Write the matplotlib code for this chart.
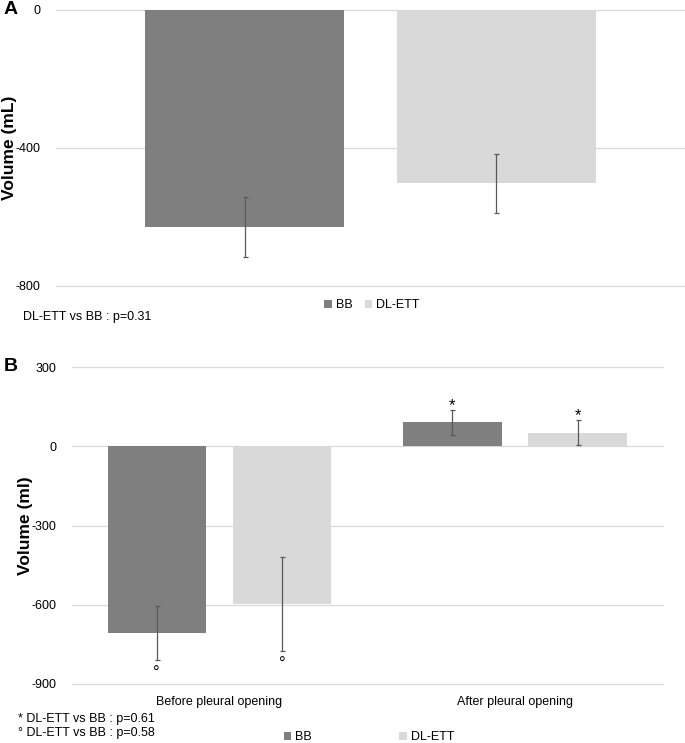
import matplotlib
matplotlib.use('Agg')
import matplotlib.pyplot as plt
from matplotlib.patches import Patch

plt.rcParams['font.family'] = ['Liberation Sans', 'DejaVu Sans']

# ---------------- data ----------------
series = ['BB', 'DL-ETT']
colors = ['#7f7f7f', '#d9d9d9']

a_values = [-630, -503]
a_errors = [87, 86]
a_yticks = [0, -400, -800]
a_note = 'DL-ETT vs BB : p=0.31'

b_categories = ['Before pleural opening', 'After pleural opening']
b_bb = [-709, 91]
b_bb_err = [102, 47]
b_dl = [-599, 52]
b_dl_err = [178, 47]
b_marks = ['°', '*']
b_yticks = [300, 0, -300, -600, -900]
b_notes = ['* DL-ETT vs BB : p=0.61', '° DL-ETT vs BB : p=0.58']

# ---------------- layout helpers ----------------
W, H = 685, 743
fig = plt.figure(figsize=(W / 100, H / 100), dpi=100)


def rect(x0, x1, ytop, ybot):
    return [x0 / W, 1 - ybot / H, (x1 - x0) / W, (ybot - ytop) / H]


def fx(x):
    return x / W


def fy(y):
    return 1 - y / H


grid_c = '#d9d9d9'
err_c = '#595959'
tick_fs = 9


def style(ax):
    for s in ax.spines.values():
        s.set_visible(False)
    ax.tick_params(axis='both', length=0, labelsize=tick_fs, colors='#000000')
    ax.yaxis.grid(True, color=grid_c, lw=0.9)
    ax.set_axisbelow(True)


def unclip_grid(ax):
    for ln in ax.get_ygridlines():
        ln.set_clip_on(False)


# ---------------- panel A ----------------
axA = fig.add_axes(rect(56, 685, 9.5, 286))
style(axA)
bw_a = 0.316
offs_a = [-0.2, 0.2]
for i in range(2):
    axA.bar(offs_a[i], a_values[i], width=bw_a, color=colors[i], zorder=2)
    axA.errorbar(offs_a[i], a_values[i], yerr=a_errors[i], fmt='none',
                 ecolor=err_c, elinewidth=0.9, capsize=1.8, capthick=0.9, zorder=3)
axA.set_xlim(-0.5, 0.5)
axA.set_ylim(-800, 0)
axA.set_yticks(a_yticks)
axA.set_yticklabels([str(t) for t in a_yticks])
axA.tick_params(axis='y', pad=11)
axA.set_xticks([])
axA.set_ylabel('Volume (mL)', fontsize=12.5, fontweight='bold')
axA.yaxis.set_label_coords((17 - 56) / 629, 0.5)
unclip_grid(axA)

fig.text(fx(4), fy(9.5), 'A', fontsize=14, fontweight='bold', va='center', ha='left')
fig.text(fx(23), fy(317), a_note, fontsize=tick_fs, va='center', ha='left')

handles = [Patch(facecolor=c, edgecolor='none') for c in colors]
fig.legend(handles, series, loc='center', bbox_to_anchor=(fx(372), fy(305)),
           ncol=2, frameon=False, fontsize=tick_fs, handlelength=0.6,
           handleheight=0.6, handletextpad=0.3, columnspacing=1.0, borderpad=0)

# ---------------- panel B ----------------
axB = fig.add_axes(rect(71.7, 662.7, 367.3, 683.7))
style(axB)
bw_b = 0.333
off_b = 0.212
xs = list(range(len(b_categories)))
for j, (vals, errs, c) in enumerate([(b_bb, b_bb_err, colors[0]), (b_dl, b_dl_err, colors[1])]):
    pos = [x + (-off_b if j == 0 else off_b) for x in xs]
    axB.bar(pos, vals, width=bw_b, color=c, zorder=2)
    axB.errorbar(pos, vals, yerr=errs, fmt='none', ecolor=err_c,
                 elinewidth=0.9, capsize=1.8, capthick=0.9, zorder=3)
    for p, v, e, m in zip(pos, vals, errs, b_marks):
        if v < 0:
            axB.annotate(m, (p, v - e), xytext=(0, -4), textcoords='offset points',
                         ha='center', va='top', fontsize=12)
        else:
            axB.annotate(m, (p, v + e), xytext=(0, -2), textcoords='offset points',
                         ha='center', va='bottom', fontsize=12)
axB.set_xlim(-0.5, 1.5)
axB.set_ylim(-900, 300)
axB.set_yticks(b_yticks)
axB.set_yticklabels([str(t) for t in b_yticks])
axB.tick_params(axis='y', pad=11)
axB.set_xticks(xs)
axB.set_xticklabels(b_categories)
axB.tick_params(axis='x', pad=9)
axB.set_ylabel('Volume (ml)', fontsize=12.5, fontweight='bold')
axB.yaxis.set_label_coords((33 - 71.7) / 591, 0.5)
unclip_grid(axB)

fig.text(fx(4), fy(367), 'B', fontsize=14, fontweight='bold', va='center', ha='left')
fig.text(fx(18), fy(719), b_notes[0], fontsize=tick_fs, va='center', ha='left')
fig.text(fx(18), fy(733), b_notes[1], fontsize=tick_fs, va='center', ha='left')

fig.legend(handles, series, loc='center', bbox_to_anchor=(fx(369), fy(737)),
           ncol=2, frameon=False, fontsize=tick_fs, handlelength=0.6,
           handleheight=0.6, handletextpad=0.3, columnspacing=7.0, borderpad=0)

fig.savefig('out.png', dpi=100, facecolor='white')
